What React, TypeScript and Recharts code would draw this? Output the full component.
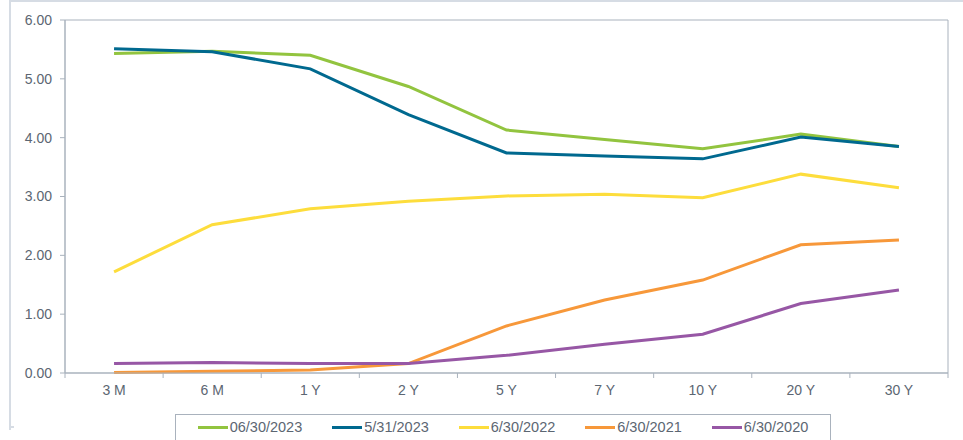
import React from 'react';
import { LineChart, Line, XAxis, YAxis, ReferenceArea } from 'recharts';

const terms = ['3 M', '6 M', '1 Y', '2 Y', '5 Y', '7 Y', '10 Y', '20 Y', '30 Y'];
const jun2023 = [5.43, 5.47, 5.4, 4.87, 4.13, 3.97, 3.81, 4.06, 3.85];
const may2023 = [5.51, 5.46, 5.17, 4.39, 3.74, 3.69, 3.64, 4.01, 3.85];
const jun2022 = [1.72, 2.52, 2.79, 2.92, 3.01, 3.04, 2.98, 3.38, 3.15];
const jun2021 = [0.01, 0.03, 0.05, 0.16, 0.8, 1.24, 1.58, 2.18, 2.26];
const jun2020 = [0.16, 0.18, 0.16, 0.16, 0.3, 0.49, 0.66, 1.18, 1.41];
const yTicks = [0, 1, 2, 3, 4, 5, 6];

const series = [
  { key: 'jun2023', name: '06/30/2023', color: '#92C43F', values: jun2023 },
  { key: 'may2023', name: '5/31/2023', color: '#00698F', values: may2023 },
  { key: 'jun2022', name: '6/30/2022', color: '#FDDD3C', values: jun2022 },
  { key: 'jun2021', name: '6/30/2021', color: '#F7983A', values: jun2021 },
  { key: 'jun2020', name: '6/30/2020', color: '#9757A5', values: jun2020 },
];

const data = terms.map((term, i) => {
  const row: Record<string, string | number> = { term };
  series.forEach((s) => {
    row[s.key] = s.values[i];
  });
  return row;
});

const axisColor = '#A9B2BD';
const labelColor = '#5C6672';
const font = '"Liberation Sans", Arial, sans-serif';

const XTick = (props: any) => {
  const { x, y, payload, index, visibleTicksCount, width } = props;
  const off = payload.offset || (width && visibleTicksCount ? width / visibleTicksCount / 2 : 0);
  const axisY = y - 12;
  const last = index === visibleTicksCount - 1;
  return (
    <g>
      <line x1={x - off} x2={x - off} y1={axisY} y2={axisY + 5} stroke={axisColor} />
      {last && <line x1={x + off} x2={x + off} y1={axisY} y2={axisY + 5} stroke={axisColor} />}
      <text x={x} y={y} dy="0.71em" textAnchor="middle" fill={labelColor} fontSize={14} fontFamily={font}>
        {payload.value}
      </text>
    </g>
  );
};

export default function App() {
  return (
    <div style={{ position: 'absolute', left: 0, top: 0, width: 963, height: 440, background: '#fff', overflow: 'hidden', fontFamily: font }}>
      <div style={{ position: 'absolute', left: 9, top: 0, right: 0, height: 428, borderTop: '2px solid #D6DCE4', borderLeft: '2px solid #D6DCE4' }} />
      <div style={{ position: 'absolute', left: 9, top: 426, width: 5, height: 2, background: '#D6DCE4' }} />
      <div style={{ position: 'absolute', left: 0, top: 0 }}>
        <LineChart width={963} height={440} data={data} margin={{ top: 20, right: 15, left: 0, bottom: 37 }}>
          <ReferenceArea y1={0} y2={6} fill="none" stroke={axisColor} strokeWidth={1} />
          <XAxis
            dataKey="term"
            scale="band"
            height={30}
            tickSize={5}
            tickMargin={7}
            tickLine={false}
            axisLine={{ stroke: axisColor }}
            tick={<XTick />}
            interval={0}
          />
          <YAxis
            width={65}
            domain={[0, 6]}
            ticks={yTicks}
            tickFormatter={(v: number) => v.toFixed(2)}
            tickSize={5}
            tickMargin={8}
            axisLine={{ stroke: axisColor }}
            tickLine={{ stroke: axisColor }}
            tick={{ fill: labelColor, fontSize: 14, fontFamily: font }}
          />
          {series.map((s) => (
            <Line
              key={s.key}
              type="linear"
              dataKey={s.key}
              name={s.name}
              stroke={s.color}
              strokeWidth={3}
              dot={false}
              activeDot={false}
              isAnimationActive={false}
            />
          ))}
        </LineChart>
      </div>
      <div
        style={{
          position: 'absolute',
          left: 175,
          top: 414,
          width: 656,
          height: 30,
          boxSizing: 'border-box',
          border: `1px solid ${axisColor}`,
          display: 'flex',
          justifyContent: 'center',
          alignItems: 'flex-start',
          paddingTop: 4,
          gap: 30,
        }}
      >
        {series.map((s) => (
          <div key={s.key} style={{ display: 'flex', alignItems: 'center', lineHeight: '16px' }}>
            <span style={{ display: 'inline-block', width: 30, height: 3, background: s.color, marginRight: 2 }} />
            <span style={{ fontSize: 14.5, color: labelColor }}>{s.name}</span>
          </div>
        ))}
      </div>
    </div>
  );
}
